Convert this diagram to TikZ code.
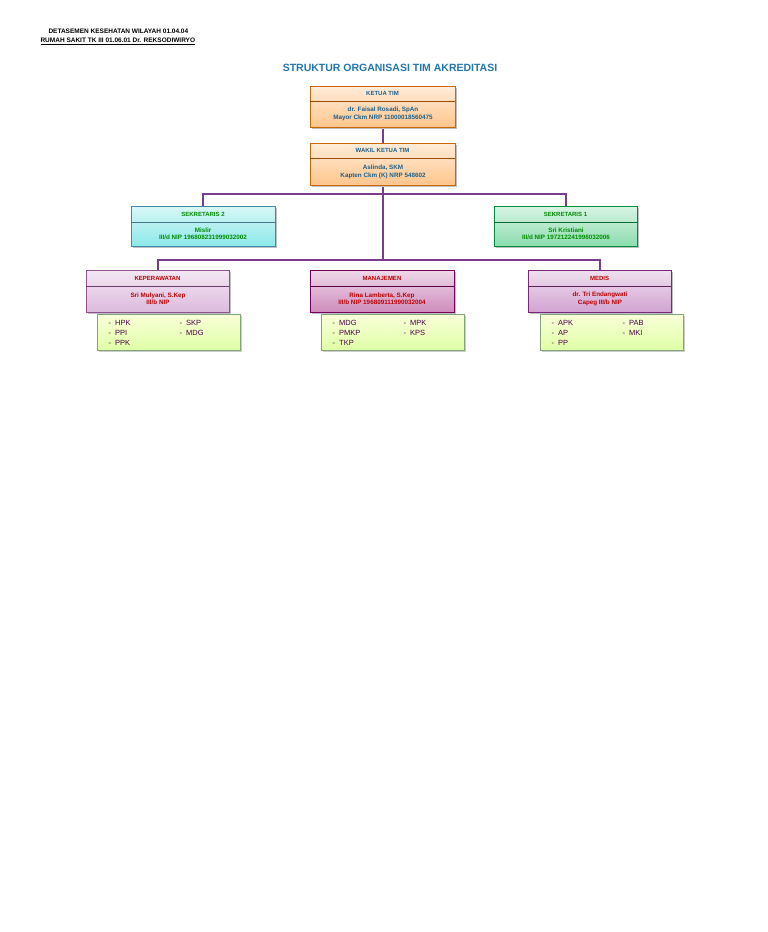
\documentclass[tikz,border=0pt]{standalone}
\usepackage{fontspec}
\setmainfont{Liberation Sans}
\definecolor{ln}{HTML}{7A3C8E}
\definecolor{ttl}{HTML}{2377AE}
\begin{document}
\begin{tikzpicture}[x=1pt,y=-1pt,
  conn/.style={draw=ln,line width=1.5pt},
  hdr/.style={font=\fontsize{6}{7}\selectfont\bfseries},
  body/.style={font=\fontsize{6.3}{7.5}\selectfont\bfseries,align=center},
  lst/.style={font=\fontsize{7.5}{8}\selectfont,text=violet!60!black,anchor=west}]
\path[use as bounding box,fill=white] (0,0) rectangle (768,932);
\node[anchor=west,font=\fontsize{6.5}{7}\selectfont\bfseries] (h1) at (45,31) {DETASEMEN KESEHATAN WILAYAH 01.04.04};
\node[anchor=west,font=\fontsize{6.5}{7}\selectfont\bfseries] (h2) at (37,41) {\underline{RUMAH SAKIT TK III 01.06.01 Dr. REKSODIWIRYO}};
\node[font=\fontsize{10.5}{12}\selectfont\bfseries,text=ttl] (title) at (390,68) {STRUKTUR ORGANISASI TIM AKREDITASI};
\newcommand{\orgbox}[9]{%
 \fill[#6] (#1+2,#2+2) rectangle (#3+2,#4+2);
 \shade[top color=#5!15!white,bottom color=#5!45!white,draw=#5!80!black] (#1,#2) rectangle (#3,#4);
 \draw[#5!60!black,line width=0.8pt] (#1,#7) -- (#3,#7);
 \node[hdr,text=#8] at ({(#1+#3)/2},{(#2+#7)/2}) {#9};
}
\draw[conn] (383,127) -- (383,143);
\draw[conn] (383,185) -- (383,260);
\draw[conn] (203,206) -- (203,194) -- (566,194) -- (566,206);
\draw[conn] (158,270) -- (158,260) -- (600,260) -- (600,270);
\orgbox{310}{86}{455}{127}{orange}{black!25}{101}{ttl!80!black}{KETUA TIM}
\node[body,text=ttl!80!black] (k) at (383,114) {dr. Faisal Rosadi, SpAn\\Mayor Ckm NRP 11000018560475};
\orgbox{310}{143}{455}{185}{orange}{black!25}{158}{ttl!80!black}{WAKIL KETUA TIM}
\node[body,text=ttl!80!black] (w) at (383,172) {Aslinda, SKM\\Kapten Ckm (K) NRP 548602};
\orgbox{131}{206}{275}{246}{cyan!60!teal}{black!25}{222}{green!55!black}{SEKRETARIS 2}
\node[body,text=green!55!black] (s2) at (203,234) {Mislir\\III/d NIP 196808231999032002};
\orgbox{494}{206}{637}{246}{teal!60!green}{black!25}{222}{green!55!black}{SEKRETARIS 1}
\node[body,text=green!55!black] (s1) at (566,234) {Sri Kristiani\\III/d NIP 197212241998032006};
\orgbox{86}{270}{229}{312}{violet!60!white}{black!25}{286}{red!75!black}{KEPERAWATAN}
\node[body,text=red!75!black] (kp) at (158,299) {Sri Mulyani, S.Kep\\III/b NIP};
\orgbox{310}{270}{454}{312}{violet!70!purple}{black!25}{286}{red!75!black}{MANAJEMEN}
\node[body,text=red!75!black] (mj) at (382,299) {Rina Lamberta, S.Kep\\III/b NIP 196809111990032004};
\orgbox{528}{270}{671}{312}{violet!80!white}{black!25}{286}{red!75!black}{MEDIS}
\node[body,text=red!75!black] (md) at (600,299) {dr. Tri Endangwati\\Capeg III/b NIP};
\foreach \x in {97,321,540}{
 \fill[black!20] (\x+2,316) rectangle (\x+145,352);
 \shade[top color=green!15!yellow!15,bottom color=green!35!yellow!35,draw=green!30!black!50] (\x,314) rectangle (\x+143,350);}
\node[lst] (l1) at (105,323) {-\ \ HPK};
\node[lst] at (105,333) {-\ \ PPI};
\node[lst] at (105,343) {-\ \ PPK};
\node[lst] at (176,323) {-\ \ SKP};
\node[lst] at (176,333) {-\ \ MDG};
\node[lst] (l2) at (329,323) {-\ \ MDG};
\node[lst] at (329,333) {-\ \ PMKP};
\node[lst] at (329,343) {-\ \ TKP};
\node[lst] at (400,323) {-\ \ MPK};
\node[lst] at (400,333) {-\ \ KPS};
\node[lst] (l3) at (548,323) {-\ \ APK};
\node[lst] at (548,333) {-\ \ AP};
\node[lst] at (548,343) {-\ \ PP};
\node[lst] at (619,323) {-\ \ PAB};
\node[lst] at (619,333) {-\ \ MKI};
\end{tikzpicture}
\end{document}
